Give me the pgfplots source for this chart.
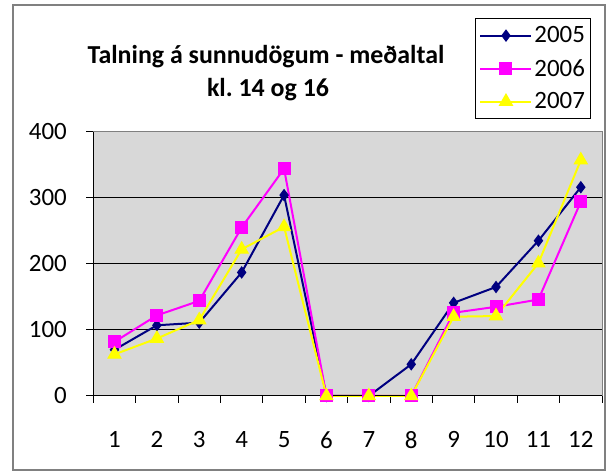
\documentclass[border=0pt]{standalone}
\usepackage{fontspec}
\setmainfont{Carlito}
\usepackage{pgfplots}
\pgfplotsset{compat=1.18}
\definecolor{navy}{RGB}{0,0,128}
\definecolor{pmag}{RGB}{255,0,255}
\definecolor{pyel}{RGB}{255,255,0}
\definecolor{plotgray}{RGB}{216,216,216}
\definecolor{framegray}{RGB}{128,128,128}
\begin{document}
\frenchspacing
\begin{tikzpicture}
\path[use as bounding box] (0,0) rectangle (607bp,472bp);
\fill[white] (0,0) rectangle (607bp,472bp);
\draw[framegray, line width=2.5bp] (13bp,2bp) rectangle (605bp,467bp);
\node[font=\bfseries\fontsize{26}{30}\selectfont, anchor=base, inner sep=0pt] at (266bp,408bp) {Talning á sunnudögum - meðaltal};
\node[font=\bfseries\fontsize{26}{30}\selectfont, anchor=base, inner sep=0pt] at (268bp,375bp) {kl.\ 14 og 16};
\begin{axis}[
  at={(93.3bp,76bp)}, anchor=south west, scale only axis,
  width=508.7bp, height=264.3bp,
  xmin=0.5, xmax=12.5, ymin=0, ymax=400,
  clip=false,
  axis background/.style={fill=plotgray},
  axis line style={framegray, line width=1bp},
  ytick={0,100,200,300,400},
  xtick={1,...,12},
  minor xtick={0.5,1.5,...,12.5},
  major x tick style={draw=none},
  tick style={black, line width=1bp},
  tick align=outside, tick pos=left,
  major tick length=7bp, minor tick length=7bp,
  ymajorgrids, grid style={black, line width=1bp},
  ticklabel style={font=\fontsize{25}{30}\selectfont},
  /pgf/number format/assume math mode=true,
  yticklabel style={xshift=-16bp},
  xticklabel style={yshift=-25bp},
  legend style={at={(0.7503,1.431)}, anchor=north west, draw=black, fill=white,
    font=\fontsize{25}{30}\selectfont, line width=1bp, row sep=11bp,
    inner xsep=4bp, inner ysep=6.5bp},
  legend cell align=left,
  legend image code/.code={\draw[mark repeat=2,mark phase=2,#1] plot coordinates {(0bp,0bp) (25.5bp,0bp) (51bp,0bp)};},
]
\addplot[navy, line width=2bp, mark=diamond*, mark size=5.5bp, mark options={solid, line width=1bp}] coordinates {
(1,70) (2,107) (3,111) (4,187) (5,304) (6,0) (7,0) (8,48) (9,141) (10,165) (11,235) (12,316)};
\addplot[pmag, line width=2bp, mark=square*, mark size=6bp, mark options={solid, line width=1bp}] coordinates {
(1,82) (2,122) (3,144) (4,255) (5,344) (6,0) (7,0) (8,0) (9,126) (10,135) (11,146) (12,294)};
\addplot[pyel, line width=2bp, mark=triangle*, mark size=7.5bp, mark options={solid, line width=1bp}] coordinates {
(1,63) (2,87) (3,115) (4,222) (5,256) (6,0) (7,0) (8,0) (9,120) (10,121) (11,201) (12,357)};
\legend{2005,2006,2007}
\draw[black, line width=1bp] (axis cs:0.5,400) -- (axis cs:0.5,0) -- (axis cs:12.5,0);
\end{axis}
\end{tikzpicture}
\end{document}
